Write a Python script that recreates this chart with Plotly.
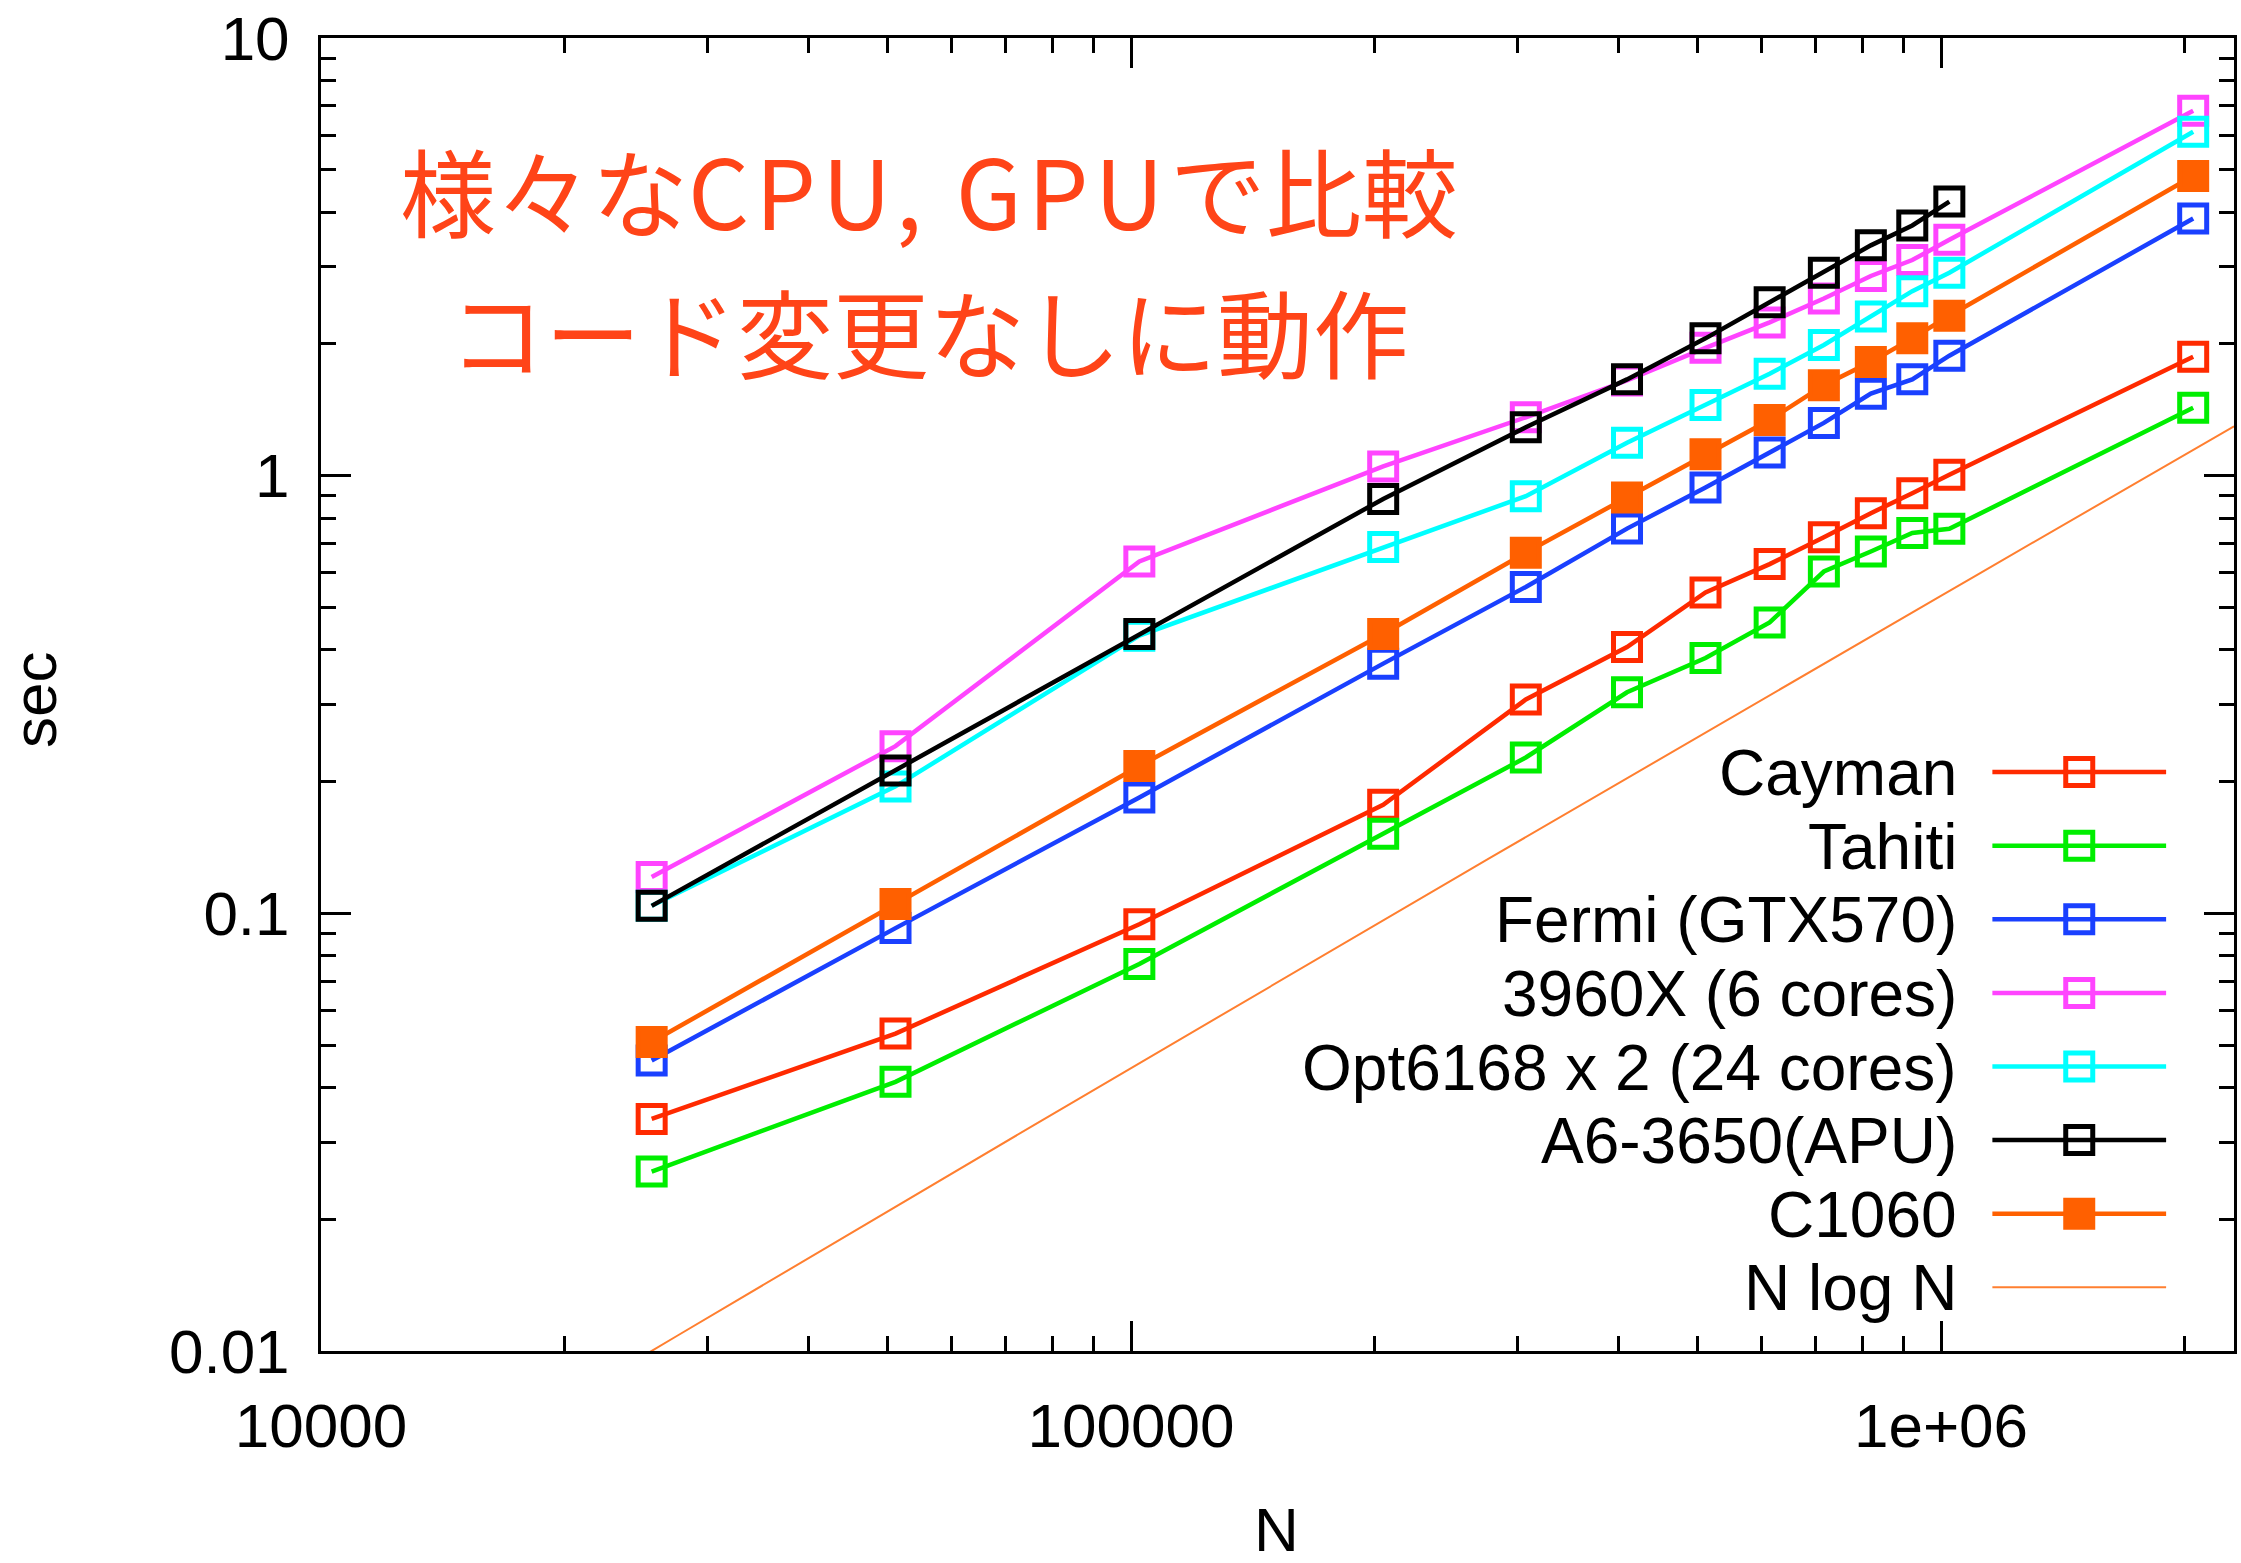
import numpy as np
import plotly.graph_objects as go

# Problem sizes (N) shared by every series
N = [25600, 51200, 102400, 204800, 307200, 409600, 512000,
     614400, 716800, 819200, 921600, 1024000, 2048000]

# Elapsed time [sec] per device
cayman = [0.0339, 0.0531, 0.0944, 0.177, 0.308, 0.406, 0.541,
          0.628, 0.723, 0.821, 0.912, 1.005, 1.87]
tahiti = [0.0257, 0.0412, 0.0766, 0.152, 0.227, 0.320, 0.383,
          0.462, 0.604, 0.671, 0.740, 0.756, 1.43]
fermi = [0.0461, 0.0925, 0.184, 0.372, 0.557, 0.757, 0.940,
         1.13, 1.32, 1.54, 1.66, 1.88, 3.87]
i7_3960x = [0.121, 0.241, 0.637, 1.05, 1.36, 1.65, 1.96,
            2.24, 2.54, 2.86, 3.11, 3.46, 6.82]
opteron = [0.104, 0.195, 0.431, 0.687, 0.898, 1.19, 1.45,
           1.71, 1.99, 2.31, 2.64, 2.91, 6.11]
a6_apu = [0.104, 0.212, 0.435, 0.885, 1.29, 1.66, 2.06,
          2.49, 2.91, 3.36, 3.73, 4.23]
c1060 = [0.0508, 0.105, 0.217, 0.435, 0.667, 0.892, 1.12,
         1.34, 1.61, 1.82, 2.06, 2.32, 4.84]

series = [
    ("Cayman", cayman, "#ff2a00", "square-open"),
    ("Tahiti", tahiti, "#00ee00", "square-open"),
    ("Fermi (GTX570)", fermi, "#1a40ff", "square-open"),
    ("3960X (6 cores)", i7_3960x, "#ff44ff", "square-open"),
    ("Opt6168 x 2 (24 cores)", opteron, "#00ffff", "square-open"),
    ("A6-3650(APU)", a6_apu, "#000000", "square-open"),
    ("C1060", c1060, "#ff6000", "square"),
]

# Reference O(N log N) curve, scaled to 0.01 sec at the smallest N
NLOGN_REF_N, NLOGN_REF_T = 25600, 0.01
NLOGN_LABEL = "N log N"
NLOGN_COLOR = "#ff7f30"

# Headline, Latin part spaced a little wider
headline = [
    ["様々な", "CPU, GPU", "で比較"],
    ["コード変更なしに動作"],
]

# Figure geometry (pixels)
W, H = 2241, 1563
L, R, T, B = 321, 2237, 31, 1351
FONT = "Liberation Sans, Arial, sans-serif"
FS = 62
KEY_FS = 64
MSIZE, MLW, LW = 27, 5, 4.5

fig = go.Figure()

for name, vals, color, sym in series:
    fig.add_trace(go.Scatter(
        x=N[:len(vals)], y=vals, mode="lines+markers", name=name,
        line=dict(color=color, width=LW),
        marker=dict(symbol=sym, size=MSIZE, color=color,
                    line=dict(color=color, width=MLW)),
        showlegend=False, cliponaxis=False,
    ))

n_ref = np.logspace(4, np.log10(2.3e6), 60)
t_ref = NLOGN_REF_T * n_ref * np.log(n_ref) / (NLOGN_REF_N * np.log(NLOGN_REF_N))
fig.add_trace(go.Scatter(x=n_ref, y=t_ref, mode="lines", name=NLOGN_LABEL,
                         line=dict(color=NLOGN_COLOR, width=2), showlegend=False))

# Key drawn gnuplot-style: label on the left, sample on the right
key_entries = [(n, c, s) for n, _, c, s in series] + [(NLOGN_LABEL, NLOGN_COLOR, None)]
key_y0, key_dy = 769, 74
key_text_x, key_line = 1962, (1995, 2169)
key_marker_x = 2082
for i, (name, color, sym) in enumerate(key_entries):
    yy = key_y0 + i * key_dy
    lw = 2 if sym is None else LW
    fig.add_trace(go.Scatter(x=list(key_line), y=[yy, yy], mode="lines",
                             line=dict(color=color, width=lw),
                             xaxis="x2", yaxis="y2", showlegend=False,
                             hoverinfo="skip"))
    if sym is not None:
        fig.add_trace(go.Scatter(x=[key_marker_x], y=[yy], mode="markers",
                                 marker=dict(symbol=sym, size=MSIZE, color=color,
                                             line=dict(color=color, width=MLW)),
                                 xaxis="x2", yaxis="y2", showlegend=False,
                                 hoverinfo="skip", cliponaxis=False))
    fig.add_annotation(x=key_text_x, y=yy + 1, xref="x2", yref="y2", text=name,
                       showarrow=False, xanchor="right", yanchor="middle",
                       font=dict(family=FONT, size=KEY_FS, color="black"))

# Headline text
for k, parts in enumerate(headline):
    txt = "".join(
        f'<span style="letter-spacing:6px">{p}</span>' if p.isascii() else p
        for p in parts
    )
    fig.add_annotation(x=930, y=182 + 142 * k, xref="x2", yref="y2", text=txt,
                       showarrow=False, xanchor="center", yanchor="middle",
                       font=dict(family="Noto Sans CJK JP", size=96, color="#ff4418"))

# Axis titles (pixel positions converted to paper units)
def px_to_paper(px, py):
    return (px - L) / (R - L), (B - py) / (B - T)

sx, sy = px_to_paper(34, 696)
fig.add_annotation(x=sx, y=sy, xref="paper", yref="paper", text="sec",
                   showarrow=False, textangle=-90, xanchor="center", yanchor="middle",
                   font=dict(family=FONT, size=FS, color="black"))
nx, ny = px_to_paper(1278, 1530)
fig.add_annotation(x=nx, y=ny, xref="paper", yref="paper", text="N",
                   showarrow=False, xanchor="center", yanchor="middle",
                   font=dict(family=FONT, size=FS, color="black"))

x_minor = [m * 10 ** e for e in (4, 5, 6) for m in range(2, 10) if m * 10 ** e < 2.3e6]
y_minor = [m * 10.0 ** e for e in (-2, -1, 0) for m in range(2, 10)]

axis_common = dict(
    type="log", showgrid=False, zeroline=False,
    showline=True, linecolor="black", linewidth=3, mirror="ticks",
    ticks="inside", ticklen=30, tickwidth=2.5, tickcolor="black",
    tickfont=dict(family=FONT, size=FS, color="black"),
    ticklabeloverflow="allow",
)

fig.update_layout(
    width=W, height=H,
    margin=dict(l=L, r=W - R, t=T, b=H - B),
    paper_bgcolor="white", plot_bgcolor="white",
    showlegend=False,
    xaxis=dict(**axis_common, range=[4, np.log10(2.3e6)],
               tickmode="array", tickvals=[1e4, 1e5, 1e6],
               ticktext=["10000", "100000", "1e+06"],
               ticklabelstandoff=19,
               minor=dict(tickmode="array", tickvals=x_minor, ticks="inside",
                          ticklen=15, tickwidth=2.5, tickcolor="black", showgrid=False)),
    yaxis=dict(**axis_common, range=[-2.0002, 1.0002],
               tickmode="array", tickvals=[0.01, 0.1, 1, 10],
               ticktext=["0.01", "0.1", "1", "10"],
               ticklabelstandoff=16,
               minor=dict(tickmode="array", tickvals=y_minor, ticks="inside",
                          ticklen=15, tickwidth=2.5, tickcolor="black", showgrid=False)),
    xaxis2=dict(overlaying="x", anchor="y2", range=[L, R], visible=False),
    yaxis2=dict(overlaying="y", anchor="x2", range=[B, T], visible=False),
)

fig.write_html("out.html")
